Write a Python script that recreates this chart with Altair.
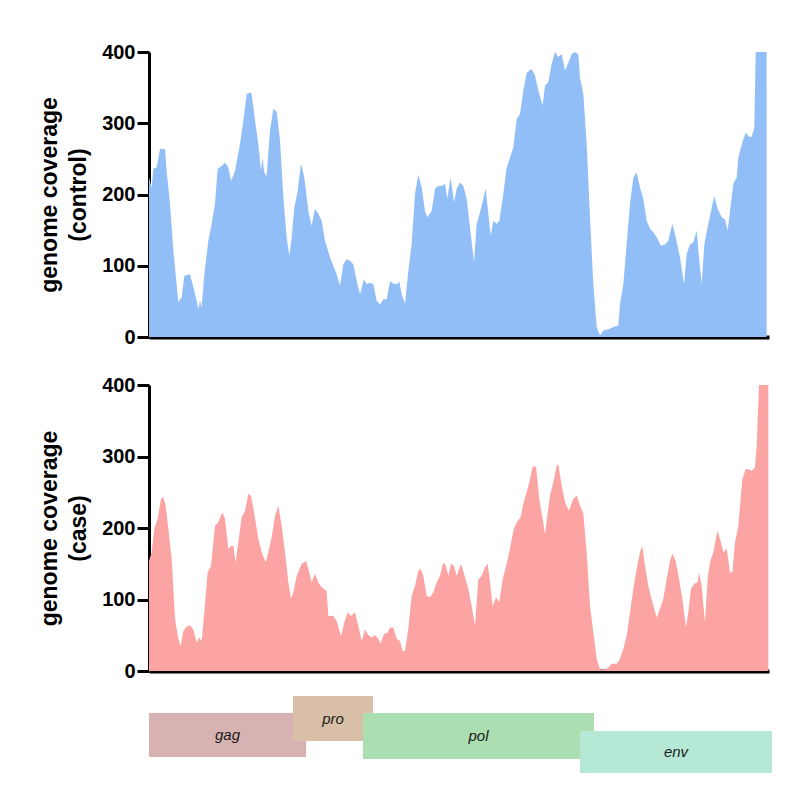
import altair as alt
import pandas as pd

# ---- coverage data (genome position in bp, coverage) ----
control_pos = [0, 40, 65, 115, 165, 240, 265, 315, 365, 440, 490, 530, 615, 665, 715, 740, 765, 790, 830, 890, 940, 990,
               1030, 1090, 1140, 1190, 1230, 1290, 1365, 1415, 1465, 1515, 1540, 1590, 1640, 1680, 1700, 1730, 1765, 1815,
               1865, 1915, 1965, 2015, 2065, 2105, 2140, 2180, 2230, 2280, 2330, 2390, 2440, 2490, 2540, 2590, 2640, 2715,
               2765, 2815, 2865, 2915, 2965, 3015, 3065, 3115, 3165, 3225, 3265, 3315, 3365, 3415, 3465, 3515, 3565, 3615,
               3665, 3715, 3755, 3790, 3840, 3890, 3940, 3990, 4040, 4090, 4140, 4175, 4240, 4290, 4340, 4390, 4440, 4475,
               4525, 4575, 4615, 4665, 4715, 4765, 4815, 4875, 4915, 4965, 5015, 5050, 5090, 5125, 5165, 5215, 5255, 5315,
               5365, 5415, 5465, 5515, 5565, 5615, 5665, 5740, 5790, 5840, 5905, 5940, 5990, 6040, 6090, 6140, 6190, 6240,
               6290, 6340, 6390, 6440, 6465, 6515, 6565, 6615, 6665, 6715, 6765, 6815, 6890, 6965, 7040, 7065, 7115, 7165,
               7215, 7265, 7315, 7365, 7415, 7465, 7515, 7565, 7615, 7680, 7740, 7790, 7850, 7900, 7965, 8025, 8065, 8115,
               8165, 8215, 8250, 8290, 8330, 8380, 8430, 8480, 8530, 8590, 8640, 8680, 8715, 8765, 8815, 8840, 8890, 8950,
               9000, 9040, 9080, 9100, 9250, 9265]
control_cov = [224, 210, 236, 238, 264, 264, 233, 187, 121, 49, 56, 86, 88, 70, 51, 39, 51, 42, 88, 135, 159, 187,
               236, 240, 245, 238, 219, 233, 271, 304, 341, 343, 341, 304, 271, 233, 252, 231, 226, 290,
               320, 316, 276, 196, 140, 114, 140, 182, 205, 243, 224, 177, 156, 180, 173, 163, 135, 112,
               100, 88, 72, 102, 109, 107, 102, 79, 60, 81, 74, 76, 74, 51, 46, 53, 53, 78,
               75, 74, 78, 60, 47, 93, 131, 201, 228, 210, 177, 168, 177, 208, 212, 212, 215, 194,
               224, 189, 208, 217, 212, 194, 154, 105, 159, 175, 194, 209, 173, 142, 163, 159, 163, 201,
               238, 252, 266, 306, 313, 346, 371, 376, 367, 346, 325, 353, 358, 383, 400, 393, 397, 374,
               385, 397, 400, 397, 364, 341, 271, 168, 74, 14, 2, 9, 11, 14, 16, 46, 74, 131,
               187, 224, 231, 210, 194, 163, 152, 147, 140, 128, 130, 135, 159, 140, 112, 74, 117, 130,
               133, 149, 112, 74, 130, 154, 177, 198, 180, 168, 165, 149, 177, 215, 224, 252, 270, 287,
               281, 281, 294, 400, 400, 400]

case_pos = [0, 40, 80, 130, 180, 215, 250, 290, 340, 390, 440, 475, 515, 565, 615, 665, 715, 750, 790, 830, 880, 930,
            990, 1040, 1100, 1140, 1190, 1230, 1265, 1300, 1340, 1390, 1440, 1490, 1530, 1580, 1640, 1690, 1750, 1790,
            1840, 1890, 1940, 1990, 2040, 2090, 2130, 2165, 2215, 2290, 2355, 2390, 2440, 2490, 2540, 2590, 2665, 2690,
            2765, 2815, 2880, 2930, 2980, 3030, 3090, 3140, 3190, 3240, 3290, 3340, 3390, 3440, 3475, 3525, 3575, 3615,
            3665, 3715, 3765, 3805, 3840, 3890, 3940, 3990, 4040, 4075, 4115, 4165, 4215, 4265, 4315, 4365, 4415, 4455,
            4490, 4530, 4575, 4615, 4680, 4740, 4790, 4840, 4890, 4940, 4990, 5040, 5080, 5115, 5155, 5205, 5255, 5305,
            5365, 5415, 5465, 5515, 5575, 5615, 5665, 5715, 5755, 5805, 5855, 5905, 5940, 5975, 6015, 6065, 6115, 6140,
            6190, 6240, 6300, 6365, 6415, 6465, 6515, 6565, 6615, 6665, 6715, 6765, 6840, 6890, 6940, 7015, 7065, 7115,
            7165, 7215, 7265, 7315, 7365, 7400, 7440, 7490, 7550, 7615, 7665, 7715, 7765, 7815, 7850, 7900, 7950, 8000,
            8055, 8090, 8130, 8180, 8230, 8250, 8290, 8340, 8380, 8415, 8465, 8525, 8565, 8615, 8665, 8715, 8750, 8790,
            8840, 8865, 8900, 8950, 8990, 9040, 9090, 9115, 9150, 9290]
case_cov = [154, 166, 199, 213, 241, 243, 231, 199, 157, 73, 45, 35, 56, 62, 64, 58, 40, 47, 42, 82, 138, 147,
            203, 208, 222, 213, 171, 175, 175, 152, 180, 215, 224, 248, 245, 220, 185, 166, 152, 166,
            187, 217, 231, 203, 166, 124, 101, 110, 133, 150, 154, 143, 124, 136, 124, 117, 112, 77,
            77, 70, 49, 68, 82, 77, 82, 63, 42, 58, 50, 47, 50, 45, 38, 52, 53, 61,
            61, 45, 42, 28, 28, 59, 105, 119, 140, 143, 133, 105, 103, 110, 124, 133, 152, 147,
            133, 150, 147, 133, 150, 131, 115, 91, 63, 128, 133, 145, 150, 124, 91, 103, 96, 128,
            150, 171, 196, 208, 215, 234, 250, 268, 286, 286, 240, 213, 191, 217, 245, 264, 287, 289,
            259, 236, 224, 241, 245, 231, 220, 166, 91, 54, 17, 2, 2, 5, 10, 10, 17, 31,
            49, 82, 115, 143, 166, 175, 147, 119, 96, 75, 87, 101, 129, 154, 164, 154, 129, 101,
            61, 82, 115, 122, 124, 138, 119, 68, 129, 152, 166, 196, 185, 166, 171, 138, 138, 180,
            203, 231, 268, 282, 282, 280, 285, 315, 400, 400]

# ---- gene annotation ----
gene_names = ["gag", "pro", "pol", "env"]
gene_start = [0, 2160, 3210, 6465]
gene_end = [2355, 3360, 6675, 9345]
gene_lane_top = [19, 2, 19, 37]
gene_lane_bottom = [63, 47, 65, 79]
gene_colors = ["#d8b2b2", "#dabfa8", "#abdeb0", "#b5e9d6"]

FONT = "Liberation Sans"
X_DOMAIN = [0, 9300]
W = 620

control_df = pd.DataFrame({"pos": control_pos, "cov": control_cov})
case_df = pd.DataFrame({"pos": case_pos, "cov": case_cov})
genes_df = pd.DataFrame({
    "gene": gene_names, "start": gene_start, "end": gene_end,
    "top": gene_lane_top, "bottom": gene_lane_bottom, "color": gene_colors,
})
genes_df["mid"] = (genes_df["start"] + genes_df["end"]) / 2
genes_df["ymid"] = (genes_df["top"] + genes_df["bottom"]) / 2

x_axis = alt.Axis(labels=False, ticks=False, title=None, grid=False,
                  domainWidth=4, domainColor="black")


def coverage_panel(df, color, label, h):
    return alt.Chart(df).mark_area(color=color, opacity=1).encode(
        x=alt.X("pos:Q", scale=alt.Scale(domain=X_DOMAIN, nice=False, zero=False), axis=x_axis),
        y=alt.Y("cov:Q", scale=alt.Scale(domain=[0, 400], nice=False, clamp=True),
                axis=alt.Axis(values=[0, 100, 200, 300, 400], title=["genome coverage", label],
                              grid=False, domainWidth=3, domainColor="black",
                              tickWidth=3, tickColor="black", tickSize=12,
                              labelFontSize=20, labelFontWeight="bold", labelFont=FONT,
                              labelColor="black", labelPadding=2,
                              titleFontSize=23, titleFontWeight="bold", titleFont=FONT,
                              titleColor="black", titlePadding=11, titleLineHeight=29)),
    ).properties(width=W, height=h)


top = coverage_panel(control_df, "#92bef8", "(control)", 285)
bottom = coverage_panel(case_df, "#fca3a3", "(case)", 286)

gx = alt.X("start:Q", scale=alt.Scale(domain=X_DOMAIN, nice=False, zero=False), axis=None)
gy = alt.Y("top:Q", scale=alt.Scale(domain=[0, 80], reverse=True, nice=False), axis=None)

gene_rects = alt.Chart(genes_df).mark_rect().encode(
    x=gx, x2="end:Q", y=gy, y2="bottom:Q",
    color=alt.Color("color:N", scale=None),
)
gene_text = alt.Chart(genes_df).mark_text(font=FONT, fontSize=15, fontStyle="italic", color="#1a1a1a").encode(
    x=alt.X("mid:Q", scale=alt.Scale(domain=X_DOMAIN, nice=False, zero=False), axis=None),
    y=alt.Y("ymid:Q", scale=alt.Scale(domain=[0, 80], reverse=True, nice=False), axis=None),
    text="gene:N",
)
genes = alt.layer(gene_rects, gene_text).properties(width=W, height=80)

panels = alt.vconcat(top, bottom, spacing=28)
chart = alt.vconcat(panels, genes, spacing=13).properties(
    padding={"top": 34, "left": 30, "right": 5, "bottom": 5}
).configure_view(stroke=None)

chart.save("out.html", embed_options={"renderer": "svg", "actions": False})
